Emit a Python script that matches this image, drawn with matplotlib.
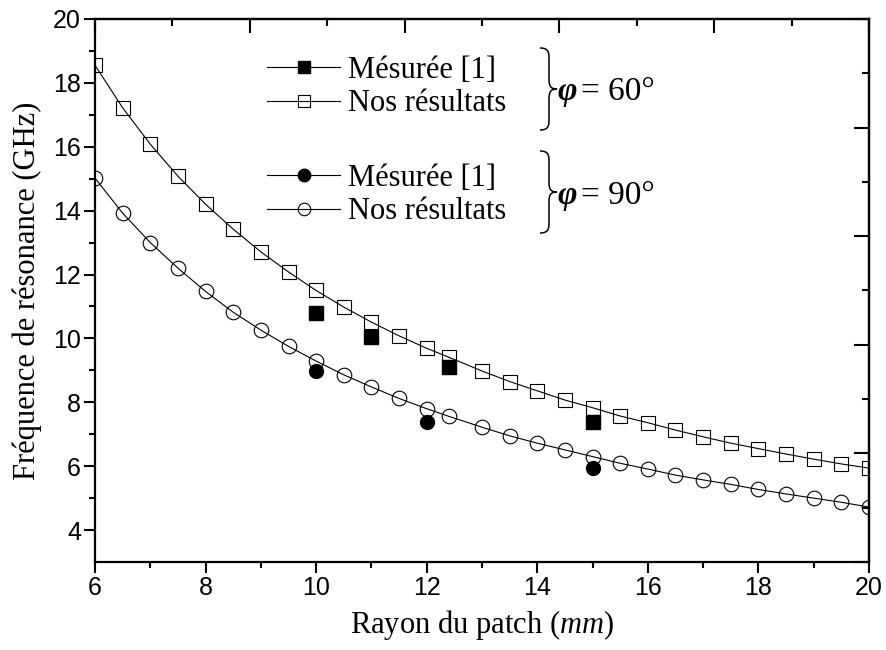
import numpy as np
import matplotlib
matplotlib.use("Agg")
import matplotlib.pyplot as plt
from matplotlib.lines import Line2D
from matplotlib.path import Path
from matplotlib.patches import PathPatch

# ---------------- data ----------------
r_calc = [6, 6.5, 7, 7.5, 8, 8.5, 9, 9.5, 10, 10.5, 11, 11.5, 12, 12.4, 13, 13.5,
          14, 14.5, 15, 15.5, 16, 16.5, 17, 17.5, 18, 18.5, 19, 19.5, 20]
f60_calc = [18.55, 17.22, 16.08, 15.08, 14.20, 13.42, 12.71, 12.08, 11.50, 10.98,
            10.51, 10.08, 9.69, 9.41, 8.98, 8.65, 8.36, 8.07, 7.83, 7.57, 7.36,
            7.13, 6.92, 6.72, 6.55, 6.38, 6.22, 6.07, 5.94]
f90_calc = [15.02, 13.92, 13.00, 12.20, 11.47, 10.82, 10.26, 9.75, 9.29, 8.86,
            8.48, 8.12, 7.80, 7.56, 7.22, 6.95, 6.72, 6.51, 6.30, 6.09, 5.91,
            5.72, 5.57, 5.43, 5.27, 5.13, 5.00, 4.87, 4.72]

r60_meas = [10, 11, 12.4, 15]
f60_meas = [10.78, 10.03, 9.09, 7.39]
r90_meas = [10, 12, 15]
f90_meas = [8.97, 7.37, 5.95]

xticks = [6, 8, 10, 12, 14, 16, 18, 20]
yticks = [4, 6, 8, 10, 12, 14, 16, 18, 20]
xlabel = "Rayon du patch ($\\mathit{mm}$)"
ylabel = "Fréquence de résonance (GHz)"
leg_meas = "Mésurée [1]"
leg_calc = "Nos résultats"
phi_labels = ["= 60°", "= 90°"]

# ---------------- style ----------------
plt.rcParams['mathtext.fontset'] = 'custom'
plt.rcParams['mathtext.rm'] = 'Liberation Serif'
plt.rcParams['mathtext.it'] = 'Liberation Serif:italic'
plt.rcParams['mathtext.bf'] = 'Liberation Serif:bold'
serif = ['Liberation Serif', 'DejaVu Serif']
narrow = ['Liberation Sans Narrow', 'Liberation Sans', 'DejaVu Sans']

W, H = 887, 650
fig = plt.figure(figsize=(W / 100, H / 100), dpi=100)
L, R, T, B = 95, 869, 19, 562
ax = fig.add_axes([L / W, 1 - B / H, (R - L) / W, (B - T) / H])

lw = 0.8
ax.plot(r_calc, f60_calc, '-', color='black', lw=lw, marker='s', ms=9.5,
        mfc='none', mec='black', mew=0.8, clip_on=True, zorder=3)
ax.plot(r_calc, f90_calc, '-', color='black', lw=lw, marker='o', ms=10.5,
        mfc='none', mec='black', mew=0.8, clip_on=True, zorder=3)
ax.plot(r60_meas, f60_meas, 's', color='black', ms=9.5, zorder=4)
ax.plot(r90_meas, f90_meas, 'o', color='black', ms=10, zorder=4)

ax.set_xlim(6, 20)
ax.set_ylim(3, 20)
ax.set_xticks(xticks)
ax.set_yticks(yticks)
ax.set_xticks(np.arange(7, 20, 2), minor=True)
ax.set_yticks(np.arange(5, 20, 2), minor=True)
ax.tick_params(which='both', direction='out', width=1.5, top=False, right=False)
ax.tick_params(which='major', length=8, pad=2, labelsize=18)
ax.tick_params(which='minor', length=4)
for lab in ax.get_xticklabels() + ax.get_yticklabels():
    lab.set_family(narrow)
for s in ax.spines.values():
    s.set_linewidth(1.6)

ax.set_xlabel(xlabel, family=serif, fontsize=22, labelpad=6)
ax.set_ylabel(ylabel, family=serif, fontsize=22, labelpad=8)

# top and right axes with their own divisions (inward ticks, no labels)
secx = ax.secondary_xaxis('top')
secx.set_xticks(np.linspace(6, 20, 6))
secx.set_xticks(np.linspace(6, 20, 11), minor=True)
secx.tick_params(which='both', direction='in', width=1.5, labeltop=False)
secx.tick_params(which='major', length=10)
secx.tick_params(which='minor', length=5)
secx.spines['top'].set_linewidth(1.6)
secy = ax.secondary_yaxis('right')
secy.set_yticks(np.linspace(3, 20, 6))
secy.set_yticks(np.linspace(3, 20, 11), minor=True)
secy.tick_params(which='both', direction='in', width=1.5, labelright=False)
secy.tick_params(which='major', length=11)
secy.tick_params(which='minor', length=5)
secy.spines['right'].set_linewidth(1.6)

# ---------------- legends ----------------
def ax_frac(px, py):
    return ((px - L) / (R - L), (B - py) / (B - T))

h_meas_s = Line2D([], [], color='black', lw=lw, marker='s', ms=8, mfc='black', mec='black')
h_calc_s = Line2D([], [], color='black', lw=lw, marker='s', ms=8, mfc='none', mec='black', mew=0.8)
h_meas_o = Line2D([], [], color='black', lw=lw, marker='o', ms=9, mfc='black', mec='black')
h_calc_o = Line2D([], [], color='black', lw=lw, marker='o', ms=9, mfc='none', mec='black', mew=0.8)

common = dict(frameon=False, loc='center left', borderpad=0, borderaxespad=0,
              handlelength=2.4, handletextpad=0.25, labelspacing=0.15,
              prop={'family': serif, 'size': 22})
leg1 = ax.legend([h_meas_s, h_calc_s], [leg_meas, leg_calc],
                 bbox_to_anchor=ax_frac(267, 87), **common)
ax.add_artist(leg1)
leg2 = ax.legend([h_meas_o, h_calc_o], [leg_meas, leg_calc],
                 bbox_to_anchor=ax_frac(267, 195), **common)

# braces
def brace(x0, xm, xt, yt, yb):
    ym = (yt + yb) / 2
    h = yb - yt
    pts = [(x0, yt), (xm, yt), (xm, yt + 0.06 * h), (xm, yt + 0.14 * h),
           (xm, ym - 0.12 * h),
           (xm, ym - 0.03 * h), (xm + 2, ym), (xt, ym),
           (xm + 2, ym), (xm, ym + 0.03 * h), (xm, ym + 0.12 * h),
           (xm, yb - 0.14 * h),
           (xm, yb - 0.06 * h), (xm, yb), (x0, yb)]
    codes = [Path.MOVETO, Path.CURVE4, Path.CURVE4, Path.CURVE4, Path.LINETO,
             Path.CURVE4, Path.CURVE4, Path.CURVE4,
             Path.CURVE4, Path.CURVE4, Path.CURVE4, Path.LINETO,
             Path.CURVE4, Path.CURVE4, Path.CURVE4]
    verts = [(px / W, 1 - py / H) for px, py in pts]
    fig.add_artist(PathPatch(Path(verts, codes), transform=fig.transFigure,
                             fill=False, lw=1.1, color='black'))

brace(540, 549, 557, 48, 130)
brace(540, 549, 557, 151, 233)

for lbl, base in zip(phi_labels, [100, 204]):
    fig.text(557 / W, 1 - base / H, "φ", family=serif, fontsize=24,
             fontstyle='italic', fontweight='bold', va='baseline', ha='left')
    fig.text(581 / W, 1 - base / H, lbl, family=serif, fontsize=24,
             va='baseline', ha='left')

fig.savefig("out.png", dpi=100)
